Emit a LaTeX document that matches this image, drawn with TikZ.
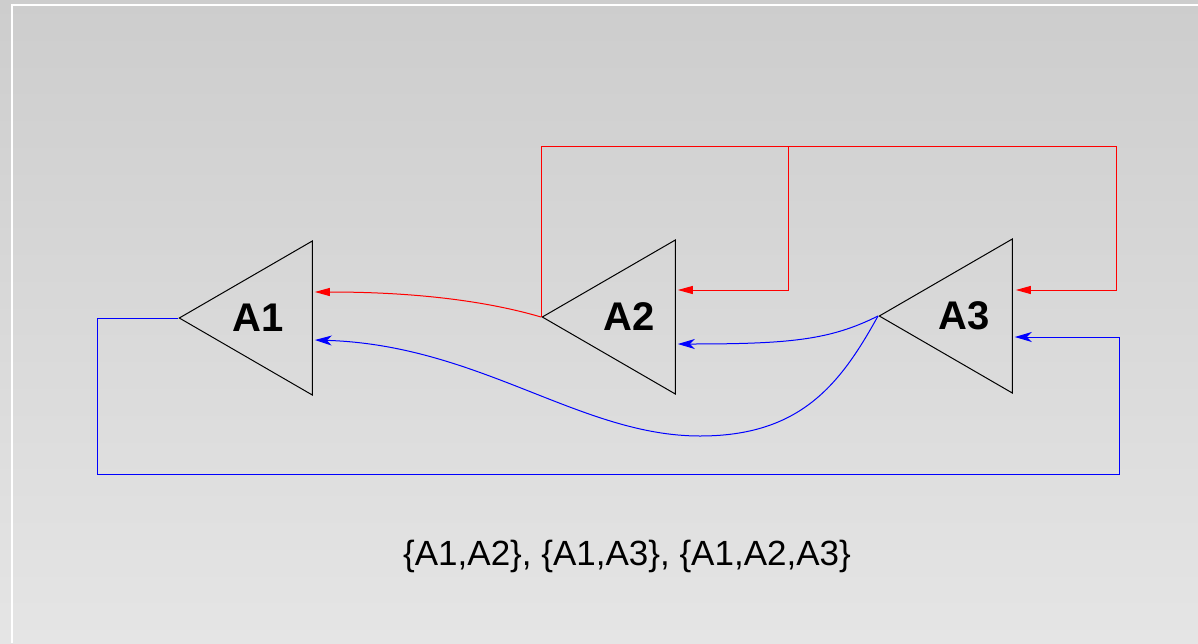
\documentclass[tikz,border=0pt]{standalone}
\usepackage{fontspec}
\setmainfont{Liberation Sans}
\usetikzlibrary{arrows.meta,shapes.geometric,calc}

\definecolor{bgtop}{HTML}{CDCDCD}
\definecolor{bgbot}{HTML}{E5E5E5}

\begin{document}
\begin{tikzpicture}[
  x=1pt, y=-1pt,
  amp/.style={
    draw, isosceles triangle, isosceles triangle stretches,
    shape border rotate=180,
    minimum width=154pt, minimum height=133pt,
    inner sep=0pt, line width=1pt
  },
  lbl/.style={font=\fontsize{40}{48}\selectfont\bfseries},
  redfb/.style={draw=red, line width=1pt, -{Triangle[length=15pt,width=8pt]}},
  bluefb/.style={draw=blue, line width=1pt, -{Stealth[length=17pt,width=10pt,inset=5pt]}}
]
% Background and frame
\useasboundingbox (0,0) rectangle (1198,643);
\shade[top color=bgtop, bottom color=bgbot] (0,0) rectangle (1198,643);
\draw[white, line width=2pt] (11.5,643) -- (11.5,4.5) -- (1198,4.5);

% Amplifiers
\node[amp, anchor=apex] (a1) at (178,318) {};
\node[amp, anchor=apex] (a2) at (541,317) {};
\node[amp, anchor=apex] (a3) at (878,316) {};
\node[lbl] (l1) at ($(a1.apex)+(80,0)$) {A1};
\node[lbl] (l2) at ($(a2.apex)+(88,0)$) {A2};
\node[lbl] (l3) at ($(a3.apex)+(86,0)$) {A3};

% Inputs on the flat sides
\coordinate (in1r) at ($(a1.lower side)+(2,-26)$);
\coordinate (in1b) at ($(a1.lower side)+(2,22)$);
\coordinate (in2r) at ($(a2.lower side)+(2,-27)$);
\coordinate (in2b) at ($(a2.lower side)+(2,27)$);
\coordinate (in3r) at ($(a3.lower side)+(3,-26)$);
\coordinate (in3b) at ($(a3.lower side)+(2,21)$);

% Red feedback
\coordinate (rtop) at (788,146);
\coordinate (rright) at (1116,146);
\draw[redfb] (a2.apex) .. controls (490,302) and (420,292) .. (in1r);
\draw[redfb] (a2.apex) |- (rtop) |- (in2r);
\draw[redfb] (rtop) -- (rright) |- (in3r);

% Blue feedback
\coordinate (bleft) at (97,474);
\coordinate (bright) at (1119,474);
\draw[bluefb] (a3.apex) .. controls (830,340) and (790,344) .. (in2b);
\draw[bluefb] (a3.apex) .. controls (840,385) and (800,436) .. (700,436)
  .. controls (580,436) and (480,345) .. (in1b);
\draw[bluefb] (a1.apex) -| (bleft) -- (bright) |- (in3b);

% Loops
\node[font=\fontsize{35}{42}\selectfont] (loops) at (627,556)
  {\{A1,A2\}, \{A1,A3\}, \{A1,A2,A3\}};
\end{tikzpicture}
\end{document}
